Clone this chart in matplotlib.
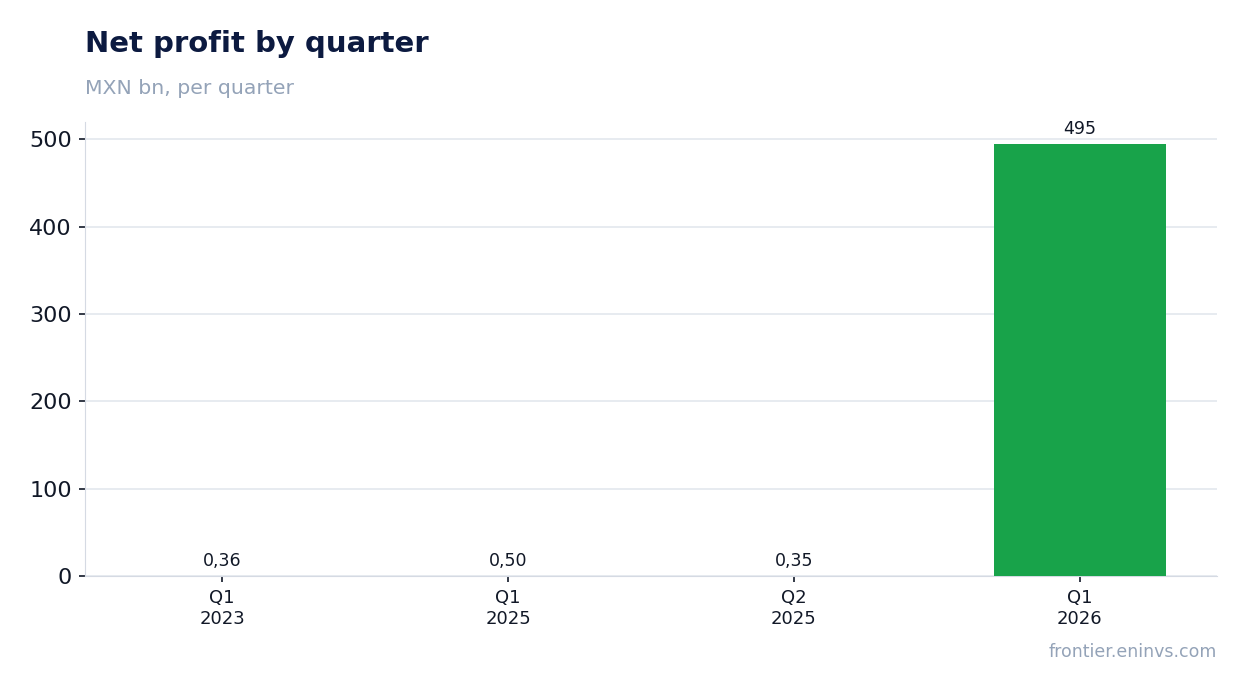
import matplotlib
matplotlib.use("Agg")
import matplotlib.pyplot as plt

quarters = ["Q1\n2023", "Q1\n2025", "Q2\n2025", "Q1\n2026"]
profit = [0.36, 0.50, 0.35, 495]
labels = ["0,36", "0,50", "0,35", "495"]

fig = plt.figure(figsize=(12.47, 6.93), dpi=100)
ax = fig.add_axes([85/1247, 1 - 576/693, (1217-85)/1247, (576-122)/693])

x = range(len(quarters))
bars = ax.bar(x, profit, width=0.6, color="#18a34a", zorder=3)
for b, lab in zip(bars, labels):
    ax.annotate(lab, (b.get_x() + b.get_width()/2, b.get_height()),
                xytext=(0, 4), textcoords="offset points",
                ha="center", va="bottom", fontsize=12.5, color="#111827")

ax.set_ylim(0, 520)
ax.set_xticks(list(x))
ax.set_xticklabels(quarters, fontsize=13, color="#111827")
ax.set_yticks([0, 100, 200, 300, 400, 500])
ax.tick_params(axis="y", labelsize=16, colors="#111827", length=4.5, width=1.2, pad=5)
ax.tick_params(axis="x", colors="#111827", length=4.5, width=1.2, pad=5)
ax.grid(axis="y", color="#e3e7ee", linewidth=1.2, zorder=0)
ax.set_axisbelow(True)
for s in ["top", "right"]:
    ax.spines[s].set_visible(False)
for s in ["left", "bottom"]:
    ax.spines[s].set_color("#d5dae3")

fig.text(85/1247, 1 - 44/693, "Net profit by quarter", fontsize=21, fontweight="bold",
         color="#0c1a40", va="center")
fig.text(85/1247, 1 - 88/693, "MXN bn, per quarter", fontsize=14.7, color="#94a3b8", va="center")
fig.text(1217/1247, 1 - 652/693, "frontier.eninvs.com", fontsize=12.5, color="#94a3b8",
         ha="right", va="center")

fig.savefig("out.png", dpi=100)
